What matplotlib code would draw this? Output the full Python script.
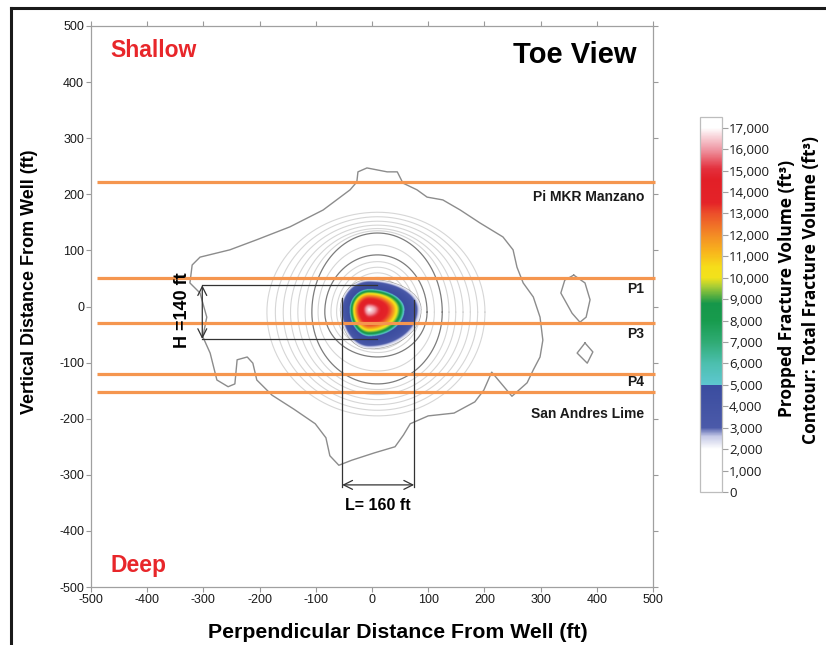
import numpy as np
import matplotlib
matplotlib.use("Agg")
import matplotlib.pyplot as plt
import matplotlib.font_manager as fm
from matplotlib.colors import LinearSegmentedColormap, Normalize
from matplotlib.cm import ScalarMappable
from matplotlib.lines import Line2D

# ---- data (ft / ft3) ----
layer_names = ["Pi MKR Manzano", "P1", "P3", "P4", "San Andres Lime"]
layer_lines = [222, 51, -29, -120, -152]          # orange boundary depths
layer_label_y = [195, 31, -49, -135, -192]

# propped volume blob: peak location, extents of the 2,500 ft3 edge, radial profile
peak_x, peak_y = -5, -6
blob_left, blob_right, blob_top, blob_bottom = 49, 88, 51, 67
prop_rho = [0.0, 0.12, 0.25, 0.42, 0.50, 0.56, 0.64, 0.70, 0.71, 0.88, 1.0, 1.1]
prop_vol = [17000, 16000, 14500, 13000, 11500, 10000, 8500, 5100, 5000, 4000, 2500, 1500]

# total fracture volume contour rings (extents in ft)
ring_cx, ring_cy = 10, -10
ring_left = [-187, -172, -158, -145, -132, -119, -107, -96, -84, -73, -63, -54, -46]
ring_right = [201, 188, 175, 162, 149, 137, 125, 111, 98, 86, 76, 68, 60]
ring_top = [168, 160, 152, 145, 139, 135, 131, 110, 92, 80, 70, 60, 52]
ring_bottom = [-195, -185, -175, -166, -157, -148, -138, -115, -90, -82, -76, -70, -66]
ring_dark = [False, False, False, False, False, False, True, False, True, False, False, False, False]

# outermost (irregular) contour
outer_x = [-27, -25, -9, 27, 45, 55, 80, 98, 126, 157, 192, 233, 251, 258, 269, 287, 299,
           304, 299, 287, 276, 249, 213, 199, 183, 146, 100, 68, 56, 41, 4, -36, -59, -75,
           -82, -101, -139, -178, -205, -212, -222, -240, -244, -256, -276, -288, -301,
           -294, -306, -324, -320, -306, -253, -205, -146, -87, -39, -27]
outer_y = [222, 240, 247, 240, 240, 220, 208, 195, 190, 172, 149, 124, 101, 70, 42, 17, -19,
           -60, -90, -113, -136, -160, -117, -149, -170, -190, -195, -209, -229, -250, -261,
           -274, -283, -266, -234, -209, -183, -158, -131, -101, -90, -95, -138, -143, -131,
           -83, -54, -19, 24, 42, 74, 88, 101, 119, 142, 172, 208, 222]

# isolated small contours on the right
blob1_x = [359, 379, 388, 381, 370, 356, 336, 343, 359]
blob1_y = [56, 42, 12, -19, -28, -12, 24, 47, 56]
blob2_x = [379, 393, 383, 365, 379]
blob2_y = [-65, -81, -101, -83, -65]

# dimension markers
h_top, h_bottom, h_x0, h_x1 = 38, -58, -302, 9
l_left, l_right, l_top, l_arrow = -53, 75, 15, -318

cbar_ticks = list(range(0, 17001, 1000))
cmap_stops = [(0, "#ffffff"), (2000, "#ffffff"), (2600, "#c4c8e6"), (3000, "#4b5aa9"),
              (5000, "#3a4c9f"), (5001, "#5ec7d0"), (6000, "#4cbfae"), (7000, "#2fab74"),
              (8000, "#179b4d"), (8800, "#16974a"), (9600, "#a9cd35"), (10000, "#f1e21b"),
              (10500, "#f6dd1a"), (11200, "#f8b51c"), (12000, "#f38b25"), (13000, "#ec4f2a"),
              (13500, "#e42328"), (14600, "#e21f27"), (15100, "#e3303d"), (16000, "#ef98a4"),
              (16600, "#f8d4da"), (17000, "#ffffff"), (17500, "#ffffff")]

# ---- fonts ----
names = {f.name for f in fm.fontManager.ttflist}
narrow = "Liberation Sans Narrow" if "Liberation Sans Narrow" in names else "Liberation Sans"
plt.rcParams["font.family"] = ["Liberation Sans", "DejaVu Sans"]
cb_font = ["Open Sans", "DejaVu Sans"]

vmax = 17500
cmap = LinearSegmentedColormap.from_list("prop", [(v / vmax, c) for v, c in cmap_stops], N=1024)
norm = Normalize(0, vmax)

fig = plt.figure(figsize=(8.26, 6.45), dpi=100)
ax = fig.add_axes([91 / 826, 1 - 587 / 645, 562 / 826, 561 / 645])

# gray contour rings
def ring_curve(left, right, top, bottom, n=240):
    t = np.linspace(0, 2 * np.pi, n)
    c, s = np.cos(t), np.sin(t)
    x = ring_cx + np.where(c >= 0, right - ring_cx, ring_cx - left) * c
    y = ring_cy + np.where(s >= 0, top - ring_cy, ring_cy - bottom) * s
    return x, y

for l, r, t, b, dark in zip(ring_left, ring_right, ring_top, ring_bottom, ring_dark):
    x, y = ring_curve(l, r, t, b)
    if dark:
        ax.plot(x, y, color="#7c7c7c", lw=0.9, zorder=1.2)
    else:
        ax.plot(x, y, color="#d6d6d6", lw=0.8, zorder=1)

ax.plot(outer_x, outer_y, color="#8c8c8c", lw=1.0, zorder=1.1)
ax.plot(blob1_x, blob1_y, color="#8c8c8c", lw=1.0, zorder=1.1)
ax.plot(blob2_x, blob2_y, color="#8c8c8c", lw=1.0, zorder=1.1)

# propped volume blob
bx = np.linspace(-110, 140, 500)
by = np.linspace(-110, 80, 380)
X, Y = np.meshgrid(bx, by)
dx, dy = X - peak_x, Y - peak_y
sx = np.where(dx < 0, blob_left, blob_right)
sy = np.where(dy > 0, blob_top, blob_bottom)
rho = np.hypot(dx / sx, dy / sy)
vol = np.ma.masked_less(np.interp(rho, prop_rho, prop_vol), 2000)
ax.imshow(vol, extent=[bx[0], bx[-1], by[0], by[-1]], origin="lower", cmap=cmap,
          norm=norm, interpolation="bilinear", aspect="auto", zorder=2)

# layer boundaries
for yv in layer_lines:
    ax.plot([-489, 504], [yv, yv], color="#f5964f", lw=2.3, zorder=3,
            solid_capstyle="butt", clip_on=False)
for name, yv in zip(layer_names, layer_label_y):
    ax.text(485, yv, name, ha="right", va="center", fontsize=10, fontweight="bold",
            color="#1a1a1a", zorder=5)

# dimension lines
dim = dict(color="#333333", lw=0.9, zorder=4)
ax.plot([h_x0, h_x1], [h_top, h_top], **dim)
ax.plot([h_x0, h_x1], [h_bottom, h_bottom], **dim)
ax.annotate("", xy=(h_x0, h_top), xytext=(h_x0, h_bottom), zorder=4,
            arrowprops=dict(arrowstyle="<->", color="#333333", lw=0.9,
                            mutation_scale=16, shrinkA=0, shrinkB=0))
ax.plot([l_left, l_left], [l_top, l_arrow - 4], **dim)
ax.plot([l_right, l_right], [l_top - 3, l_arrow - 4], **dim)
ax.annotate("", xy=(l_left, l_arrow), xytext=(l_right, l_arrow), zorder=4,
            arrowprops=dict(arrowstyle="<->", color="#333333", lw=0.9,
                            mutation_scale=16, shrinkA=0, shrinkB=0))
ax.text(-337, -6, "H =140 ft", rotation=90, ha="center", va="center",
        fontsize=13, fontweight="bold", zorder=5)
ax.text(11, -354, "L= 160 ft", ha="center", va="center", fontsize=11.5,
        fontweight="bold", zorder=5)

# corner labels
ax.text(-466, 457, "Shallow", color="#e8262a", fontsize=16.5, fontweight="bold",
        ha="left", va="center")
ax.text(-466, -461, "Deep", color="#e8262a", fontsize=16.5, fontweight="bold",
        ha="left", va="center")
ax.text(471, 448, "Toe View", color="black", fontsize=21, fontweight="bold",
        ha="right", va="center")

# axes styling
ax.set_xlim(-500, 500)
ax.set_ylim(-500, 500)
ticks = list(range(-500, 501, 100))
ax.set_xticks(ticks, labels=[str(v) for v in ticks], fontsize=9, fontfamily=narrow)
ax.set_yticks(ticks, labels=[str(v) for v in ticks], fontsize=9, fontfamily=narrow)
ax.tick_params(direction="out", length=3.5, width=0.8, color="#9a9a9a",
               labelcolor="#1a1a1a", top=True, right=True, pad=1.5)
for sp in ax.spines.values():
    sp.set_color("#a0a0a0")
    sp.set_linewidth(0.9)

fig.text(398 / 826, 1 - 632 / 645, "Perpendicular Distance From Well (ft)",
         ha="center", va="center", fontsize=15.3, fontweight="bold")
fig.text(30 / 826, 1 - 282 / 645, "Vertical Distance From Well (ft)", rotation=90,
         ha="center", va="center", fontsize=13, fontweight="bold")

# colorbar
cax = fig.add_axes([700 / 826, 1 - 492 / 645, 22 / 826, 375 / 645])
cb = fig.colorbar(ScalarMappable(norm=norm, cmap=cmap), cax=cax)
cax.set_yticks(cbar_ticks, labels=[f"{v:,}" for v in cbar_ticks], fontsize=9.5,
               fontfamily=cb_font)
cax.tick_params(length=4, width=0.8, color="#a0a0a0", labelcolor="#1a1a1a", pad=1)
cb.outline.set_edgecolor("#bdbdbd")
cb.outline.set_linewidth(0.9)
fig.text(787 / 826, 1 - 288 / 645, "Propped Fracture Volume (ft³)", rotation=90,
         ha="center", va="center", fontsize=12.5, fontweight="bold", family=cb_font)
fig.text(811 / 826, 1 - 290 / 645, "Contour: Total Fracture Volume (ft³)", rotation=90,
         ha="center", va="center", fontsize=12.5, fontweight="bold", family=cb_font)

# outer frame of the figure
fig.add_artist(Line2D([11 / 826, 11 / 826], [0, 1 - 8 / 645], transform=fig.transFigure,
                      color="#1a1a1a", lw=2.2))
fig.add_artist(Line2D([11 / 826, 1], [1 - 8 / 645, 1 - 8 / 645], transform=fig.transFigure,
                      color="#1a1a1a", lw=2.2))

fig.savefig("out.png", dpi=100)
